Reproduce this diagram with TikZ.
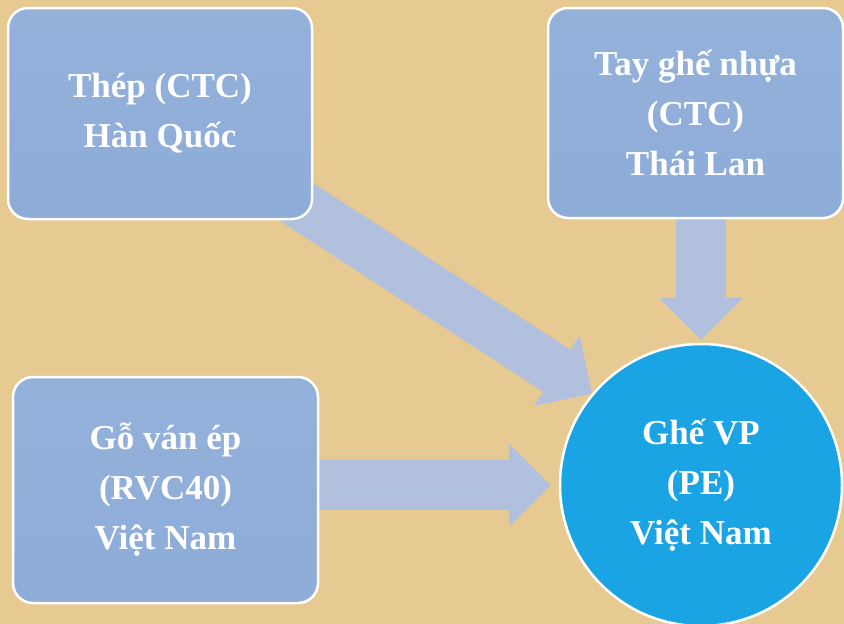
\documentclass[tikz,border=0pt]{standalone}
\usepackage{fontspec}
\setmainfont{Liberation Serif}
\usetikzlibrary{arrows.meta,backgrounds}

\definecolor{paper}{RGB}{231,202,146}
\definecolor{boxblue}{RGB}{141,172,216}
\definecolor{flowblue}{RGB}{177,193,221}
\definecolor{chairblue}{RGB}{26,164,228}

\pgfdeclarelayer{paper}
\pgfsetlayers{paper,background,main}

\begin{document}
\begin{tikzpicture}[x=1pt,y=-1pt,
  material/.style={draw=white,line width=2.5pt,rounded corners=20pt,
    top color=boxblue!94!white,bottom color=boxblue,text=white,
    font=\fontsize{35}{50}\selectfont\bfseries,align=center,inner sep=0pt},
  product/.style={circle,draw=white,line width=2.5pt,fill=chairblue,text=white,
    minimum size=282pt,font=\fontsize{35}{50}\selectfont\bfseries,align=center,inner sep=0pt},
  flow/.style={draw=flowblue,line width=50pt,
    -{Triangle[length=42pt,width=84pt,line width=0pt]}}]

  \useasboundingbox (0,0) rectangle (844,624);

  % nguyen lieu
  \node [material,minimum width=304pt,minimum height=211pt] (thep) at (160,113.5)
    {Thép (CTC)\\Hàn Quốc};
  \node [material,minimum width=295pt,minimum height=210pt] (tay) at (695.5,113)
    {Tay ghế nhựa\\(CTC)\\Thái Lan};
  \node [material,minimum width=305pt,minimum height=226pt] (go) at (165.5,490)
    {Gỗ ván ép\\(RVC40)\\Việt Nam};

  % san pham
  \node [product] (ghe) at (701,485) {Ghế VP\\(PE)\\Việt Nam};

  \begin{pgfonlayer}{paper}
    \fill [paper] (0,0) rectangle (844,624);
  \end{pgfonlayer}

  \begin{pgfonlayer}{background}
    \draw [flow] (thep.center) -- (ghe.140);
    \draw [flow,shorten >=3pt] (tay.center -| ghe.north) -- (ghe.north);
    \draw [flow,shorten >=8pt] (go.center |- ghe.west) -- (ghe.west);
  \end{pgfonlayer}
\end{tikzpicture}
\end{document}
